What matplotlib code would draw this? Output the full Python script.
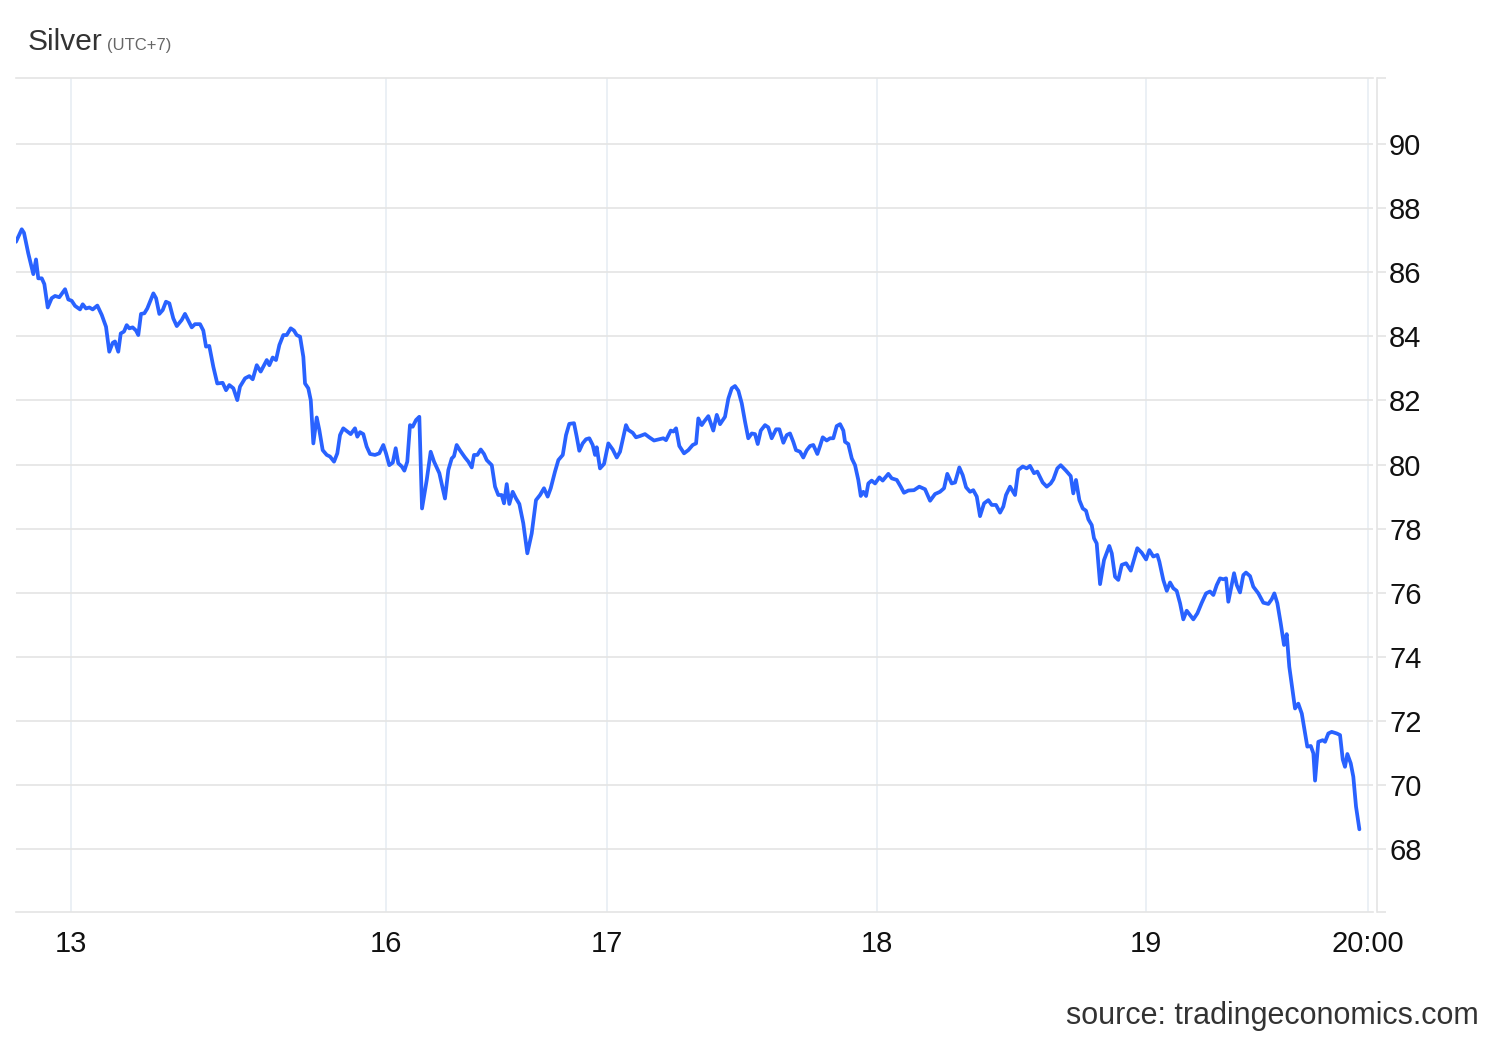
import numpy as np
import matplotlib
matplotlib.use("Agg")
import matplotlib.pyplot as plt

plt.rcParams["font.family"] = ["Liberation Sans", "DejaVu Sans"]

# hours on the compressed trading timeline (13th 00:00 = 0) and silver price
HOURS = [
    -4.89, -4.38, -4.18, -3.80, -3.35, -3.11, -2.91, -2.60, -2.37, -2.07, -1.72, -1.42, -1.04,
    -0.53, -0.24, 0.06, 0.36, 0.80, 1.04, 1.33, 1.63, 1.93, 2.34, 2.73, 3.11, 3.40, 3.71, 3.91,
    4.20, 4.42, 4.71, 4.95, 5.18, 5.48, 5.78, 5.98, 6.22, 6.52, 6.78, 7.32, 7.56, 7.85, 8.15,
    8.44, 8.74, 9.09, 9.40, 9.84, 10.13, 10.43, 10.73, 11.02, 11.47, 11.76, 12.00, 12.29, 12.65,
    13.00, 13.48, 13.78, 14.07, 14.43, 14.78, 15.02, 15.47, 15.85, 16.15, 16.51, 16.86, 17.40,
    17.63, 17.93, 18.22, 18.52, 18.87, 19.17, 19.53, 19.82, 20.06, 20.36, 20.65, 20.80, 21.09,
    21.31, 21.54, 21.84, 22.07, 22.37, 22.73, 23.02, 23.38, 23.67, 23.91, 24.20, 24.56, 24.86,
    25.24, 25.45, 25.69, 25.98, 26.28, 26.58, 27.02, 27.40, 27.76, 28.00, 28.29, 28.60, 28.86,
    29.09, 29.40, 29.63, 29.89, 30.13, 30.37, 30.67, 30.96, 31.20, 31.62, 31.97, 32.27, 32.74,
    33.24, 33.54, 33.84, 34.04, 34.28, 34.58, 35.02, 35.32, 35.62, 35.82, 36.12, 36.42, 36.71,
    36.95, 37.40, 37.69, 37.98, 38.28, 38.49, 38.73, 38.96, 39.26, 39.56, 39.85, 40.20, 40.56,
    40.95, 41.33, 41.69, 42.04, 42.37, 42.64, 43.02, 43.32, 43.71, 44.00, 44.29, 44.71, 44.95,
    45.18, 45.48, 45.78, 46.07, 46.37, 46.58, 46.73, 47.02, 47.38, 47.76, 48.15, 48.51, 48.80,
    49.33, 49.54, 49.93, 50.22, 50.58, 51.02, 51.40, 51.82, 52.29, 52.65, 52.89, 53.31, 53.54,
    53.78, 54.07, 54.49, 54.87, 55.26, 55.56, 55.76, 56.06, 56.27, 56.65, 57.09, 57.40, 57.69,
    58.13, 58.43, 58.73, 59.02, 59.32, 59.62, 59.91, 60.20, 60.51, 60.80, 61.04, 61.31, 61.69,
    61.98, 62.28, 62.67, 62.96, 63.32, 63.62, 63.91, 64.20, 64.44, 64.80, 65.09, 65.40, 65.69,
    65.98, 66.34, 66.58, 66.82, 67.17, 67.47, 67.76, 68.06, 68.36, 68.65, 68.80, 69.09, 69.40,
    69.69, 69.98, 70.20, 70.43, 70.67, 70.87, 71.17, 71.47, 71.85, 72.15, 72.65, 72.95, 73.40,
    73.75, 74.04, 74.43, 74.93, 75.40, 75.91, 76.36, 76.80, 77.24, 77.60, 77.89, 78.28, 78.58,
    78.96, 79.26, 79.56, 79.91, 80.20, 80.51, 80.80, 81.16, 81.54, 81.84, 82.22, 82.58, 82.87,
    83.11, 83.47, 83.91, 84.20, 84.60, 84.95, 85.24, 85.60, 85.89, 86.37, 86.73, 87.08, 87.32,
    87.67, 87.97, 88.44, 88.86, 89.09, 89.33, 89.63, 89.93, 90.22, 90.43, 90.73, 90.93, 91.17,
    91.47, 91.82, 92.29, 92.51, 92.80, 93.09, 93.40, 93.78, 94.20, 94.78, 95.17, 95.56, 95.85,
    96.20, 96.56, 96.74, 97.09, 97.40, 97.69, 97.98, 98.28, 98.58, 98.87, 99.17, 99.47, 99.76,
    100.12, 100.51, 100.89, 101.24, 101.54, 101.84, 102.13, 102.43, 102.67, 102.87, 103.08,
    103.38, 103.62, 103.91, 104.20, 104.44, 104.80, 105.09, 105.54, 105.98, 106.43, 106.73,
    106.96, 107.23, 107.53, 107.82, 108.06, 108.29, 108.51, 108.80, 109.09, 109.40, 109.69,
    109.89, 110.20, 110.43, 110.58, 110.87, 111.26, 111.47, 111.76, 112.06, 112.51, 112.80,
    113.04, 113.24, 113.45, 113.75, 113.98, 114.22, 114.52,
]
PRICE = [
    86.95, 87.34, 87.23, 86.59, 85.94, 86.40, 85.81, 85.81, 85.63, 84.90, 85.19, 85.26, 85.22,
    85.47, 85.15, 85.11, 84.95, 84.84, 85.00, 84.87, 84.90, 84.84, 84.96, 84.67, 84.30, 83.52,
    83.80, 83.84, 83.52, 84.09, 84.15, 84.35, 84.25, 84.28, 84.18, 84.04, 84.70, 84.72, 84.87,
    85.34, 85.19, 84.70, 84.82, 85.08, 85.03, 84.56, 84.32, 84.51, 84.70, 84.49, 84.28, 84.38,
    84.38, 84.18, 83.68, 83.70, 83.05, 82.53, 82.55, 82.32, 82.48, 82.38, 82.01, 82.43, 82.69,
    82.76, 82.66, 83.10, 82.90, 83.26, 83.10, 83.34, 83.26, 83.73, 84.04, 84.04, 84.25, 84.18,
    84.04, 83.99, 83.36, 82.53, 82.38, 82.01, 80.66, 81.47, 81.08, 80.45, 80.30, 80.25, 80.09,
    80.35, 80.92, 81.13, 81.03, 80.95, 81.13, 80.87, 81.01, 80.95, 80.56, 80.33, 80.30, 80.35,
    80.61, 80.35, 79.98, 80.06, 80.51, 80.04, 79.94, 79.81, 80.09, 81.23, 81.18, 81.39, 81.49,
    78.63, 79.52, 80.40, 80.09, 79.73, 78.94, 79.83, 80.19, 80.26, 80.61, 80.44, 80.22, 80.09,
    79.91, 80.30, 80.30, 80.47, 80.33, 80.14, 79.98, 79.31, 79.05, 79.05, 78.79, 79.39, 78.77,
    79.15, 78.94, 78.77, 78.17, 77.23, 77.85, 78.89, 79.05, 79.26, 79.00, 79.26, 79.78, 80.14,
    80.30, 80.92, 81.27, 81.29, 80.87, 80.43, 80.66, 80.79, 80.82, 80.61, 80.30, 80.54, 79.88,
    80.02, 80.66, 80.47, 80.22, 80.40, 81.23, 81.08, 80.99, 80.85, 80.89, 80.95, 80.85, 80.75,
    80.79, 80.82, 80.76, 81.06, 81.03, 81.13, 80.58, 80.35, 80.45, 80.61, 80.66, 81.44, 81.23,
    81.34, 81.51, 81.06, 81.55, 81.26, 81.49, 82.06, 82.38, 82.45, 82.30, 81.91, 81.34, 80.82,
    80.97, 80.95, 80.64, 81.06, 81.23, 81.16, 80.82, 81.10, 81.10, 80.68, 80.92, 80.97, 80.71,
    80.45, 80.40, 80.22, 80.45, 80.58, 80.61, 80.33, 80.58, 80.85, 80.75, 80.82, 80.82, 81.20,
    81.26, 81.06, 80.71, 80.64, 80.19, 79.98, 79.52, 79.02, 79.15, 79.02, 79.41, 79.50, 79.41,
    79.60, 79.50, 79.71, 79.57, 79.52, 79.31, 79.12, 79.19, 79.20, 79.31, 79.23, 78.87, 79.08,
    79.15, 79.26, 79.71, 79.41, 79.44, 79.91, 79.67, 79.29, 79.15, 79.20, 79.00, 78.39, 78.79,
    78.89, 78.74, 78.74, 78.50, 78.69, 79.05, 79.31, 79.05, 79.83, 79.94, 79.88, 79.96, 79.73,
    79.78, 79.44, 79.31, 79.41, 79.54, 79.88, 79.98, 79.81, 79.64, 79.10, 79.52, 78.89, 78.63,
    78.56, 78.29, 78.11, 77.70, 77.54, 76.27, 77.02, 77.46, 77.23, 76.50, 76.40, 76.87, 76.92,
    76.69, 77.39, 77.25, 77.04, 77.33, 77.13, 77.18, 76.97, 76.40, 76.06, 76.32, 76.14, 76.06,
    75.67, 75.17, 75.44, 75.30, 75.17, 75.36, 75.69, 75.98, 76.04, 75.93, 76.24, 76.45, 76.42,
    76.45, 75.72, 76.09, 76.61, 76.24, 76.01, 76.55, 76.63, 76.52, 76.19, 75.98, 75.69, 75.65,
    75.80, 75.98, 75.67, 75.04, 74.37, 74.71, 73.69, 73.12, 72.39, 72.54, 72.23, 71.61, 71.20,
    71.22, 70.99, 70.14, 71.35, 71.40, 71.35, 71.61, 71.66, 71.61, 71.56, 70.80, 70.57, 70.97,
    70.68, 70.26, 69.33, 68.62,
]

X_TICKS = [0, 28.0, 47.64, 71.64, 95.56, 115.29]
X_LABELS = ["13", "16", "17", "18", "19", "20:00"]
Y_TICKS = [68, 70, 72, 74, 76, 78, 80, 82, 84, 86, 88, 90]
Y_MIN, Y_MAX = 66.04, 92.06

LINE = "#2962ff"
GRID_H = "#e4e4e4"
GRID_V = "#e8eef3"

fig = plt.figure(figsize=(15, 10.4), dpi=100)
ax = fig.add_axes([16 / 1500, 1 - 912 / 1040, (1373 - 16) / 1500, (912 - 78) / 1040])

ax.plot(HOURS, PRICE, color=LINE, lw=2.7, solid_joinstyle="round", solid_capstyle="round",
        zorder=3)

ax.set_xlim(-4.89, 115.73)
ax.set_ylim(Y_MIN, Y_MAX)

ax.set_xticks(X_TICKS)
ax.set_xticklabels(X_LABELS)
ax.set_yticks(Y_TICKS)
ax.set_yticks([Y_MIN, Y_MAX], minor=True)   # little stubs where top/bottom rules meet the axis
ax.yaxis.tick_right()
ax.tick_params(axis="x", length=0, pad=13, labelsize=21, labelcolor="#111111")
ax.tick_params(axis="y", which="both", length=6.2, width=1.2, color=GRID_H, pad=2.4,
               labelsize=21, labelcolor="#111111")

ax.grid(axis="y", color=GRID_H, lw=1.2)
ax.grid(axis="x", color=GRID_V, lw=1.2)
ax.set_axisbelow(True)

ax.spines["left"].set_visible(False)
for s in ["top", "bottom", "right"]:
    ax.spines[s].set_color(GRID_H)
    ax.spines[s].set_linewidth(1.2)
ax.spines["right"].set_position(("outward", 3))

fig.text(28 / 1500, 1 - 50 / 1040, "Silver", fontsize=21.5, color="#333333", va="baseline")
fig.text(107 / 1500, 1 - 50 / 1040, "(UTC+7)", fontsize=12, color="#666666", va="baseline")
fig.text(1479 / 1500, 1 - 1024 / 1040, "source: tradingeconomics.com", fontsize=22,
         color="#333333", ha="right", va="baseline")

fig.savefig("out.png", dpi=100, facecolor="white")
